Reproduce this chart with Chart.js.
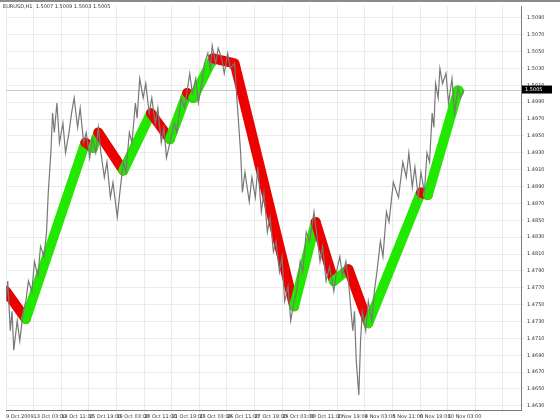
<!DOCTYPE html>
<html>
<head>
<meta charset="utf-8">
<script src="https://cdn.jsdelivr.net/npm/chart.js@4.4.0/dist/chart.umd.min.js"></script>
<style>
html, body { margin: 0; padding: 0; background: #fff; }
</style>
</head>
<body>
<canvas id="grafico" width="560" height="420"></canvas>
<script>
// Datos: EURUSD H1, hora = numero de barra desde la primera etiqueta
const titulo = 'EURUSD,H1  1.5007 1.5009 1.5003 1.5005';
const precioActual = 1.5005;

const etiquetasX = ['9 Oct 2009', '13 Oct 03:00', '14 Oct 11:00', '15 Oct 19:00', '19 Oct 03:00',
    '20 Oct 11:00', '21 Oct 19:00', '23 Oct 03:00', '26 Oct 11:00', '27 Oct 19:00', '29 Oct 03:00',
    '30 Oct 11:00', '2 Nov 19:00', '4 Nov 03:00', '5 Nov 11:00', '6 Nov 19:00', '10 Nov 03:00'];

const ticksY = [1.4630, 1.4650, 1.4670, 1.4690, 1.4710, 1.4730, 1.4750, 1.4770, 1.4790, 1.4810,
    1.4830, 1.4850, 1.4870, 1.4890, 1.4910, 1.4930, 1.4950, 1.4970, 1.4990, 1.5010, 1.5030,
    1.5050, 1.5070, 1.5090];

// precio (linea gris)
const horasPrecio = [0, 2, 5, 7, 9, 13, 16, 20, 23, 26, 30, 33, 37, 40, 44, 47, 49, 52, 54, 56,
    59, 62, 66, 69, 73, 76, 79, 83, 86, 90, 93, 97, 100, 104, 107, 110, 114, 117, 121, 124,
    129, 132, 136, 139, 143, 146, 150, 152, 155, 159, 162, 166, 169, 173, 176, 180, 183, 186, 190, 195,
    198, 203, 207, 213, 216, 220, 223, 227, 230, 234, 237, 239, 243, 246, 250, 253, 257, 260, 265, 268,
    272, 274, 277, 282, 285, 289, 292, 296, 299, 303, 306, 310, 313, 317, 320, 323, 327, 330, 334, 337,
    341, 344, 348, 352, 357, 360, 364, 367, 371, 375, 380, 383, 387, 390, 394, 397, 399, 402, 404, 406,
    409, 411, 413, 417, 420, 424, 427, 430, 434, 437, 441, 444, 449, 455, 460, 464, 467, 471, 474, 478,
    481, 485, 488, 491, 494, 496, 498, 501, 503, 506, 510, 513, 517, 520, 524, 527, 531];
const precios = [1.4754, 1.4778, 1.4719, 1.4742, 1.4696, 1.4731, 1.4707, 1.4742, 1.4754, 1.4778,
    1.4766, 1.4801, 1.4784, 1.4819, 1.4807, 1.4836, 1.4883, 1.4930, 1.4977, 1.4954,
    1.4989, 1.4942, 1.4965, 1.4930, 1.4954, 1.4977, 1.4995, 1.4960, 1.4983, 1.4942,
    1.4954, 1.4924, 1.4948, 1.4930, 1.4960, 1.4930, 1.4901, 1.4919, 1.4877, 1.4895,
    1.4854, 1.4883, 1.4919, 1.4907, 1.4954, 1.4942, 1.4989, 1.4971, 1.5018, 1.4995,
    1.5012, 1.4977, 1.4995, 1.4965, 1.4983, 1.4942, 1.4960, 1.4924, 1.4942, 1.4965,
    1.4954, 1.4995, 1.4983, 1.5024, 1.5001, 1.5018, 1.4989, 1.5012, 1.5036, 1.5048,
    1.5030, 1.5057, 1.5036, 1.5054, 1.5042, 1.5024, 1.5048, 1.5030, 1.5036, 1.4989,
    1.4930, 1.4883, 1.4907, 1.4872, 1.4901, 1.4877, 1.4913, 1.4860, 1.4883, 1.4836,
    1.4854, 1.4813, 1.4825, 1.4789, 1.4807, 1.4754, 1.4772, 1.4731, 1.4754, 1.4766,
    1.4801, 1.4789, 1.4836, 1.4825, 1.4860, 1.4836, 1.4801, 1.4819, 1.4778, 1.4795,
    1.4766, 1.4789, 1.4807, 1.4784, 1.4801, 1.4778, 1.4754, 1.4719, 1.4742, 1.4684,
    1.4643, 1.4707, 1.4742, 1.4719, 1.4754, 1.4731, 1.4766, 1.4789, 1.4825, 1.4807,
    1.4860, 1.4848, 1.4895, 1.4877, 1.4919, 1.4901, 1.4930, 1.4889, 1.4913, 1.4877,
    1.4907, 1.4883, 1.4930, 1.4919, 1.4977, 1.4960, 1.5012, 1.4995, 1.5030, 1.5012,
    1.5024, 1.4989, 1.5018, 1.4977, 1.5007, 1.4995, 1.5005];

// zigzag (verde sube, rojo baja)
const horasZigzag = [0, 23, 92, 101, 107, 136, 168, 190, 210, 217, 240, 265, 334, 359, 380, 397, 420, 481, 489, 524];
const preciosZigzag = [1.4766, 1.4733, 1.4942, 1.4936, 1.4954, 1.4909, 1.4977, 1.4946, 1.5001, 1.4995,
    1.5042, 1.5036, 1.4748, 1.4848, 1.4778, 1.4792, 1.4728, 1.4883, 1.4880, 1.5003];

const ROJO = 'rgb(236, 0, 0)';
const VERDE = 'rgb(34, 232, 0)';
const fuente = { family: 'DejaVu Sans', size: 5 };

// plugin para marco, titulo y etiqueta del precio actual
const marco = {
    id: 'marco',
    beforeDraw(chart) {
        const c = chart.ctx;
        c.save();
        c.fillStyle = '#fff';
        c.fillRect(0, 0, chart.width, chart.height);
        c.fillStyle = '#8a8a8a';
        c.fillRect(0, 0, chart.width, 2);
        c.restore();
    },
    beforeDatasetsDraw(chart) {
        const c = chart.ctx;
        const a = chart.chartArea;
        const y = Math.round(chart.scales.y.getPixelForValue(precioActual)) + 0.5;
        c.save();
        c.strokeStyle = '#c8c8c8';
        c.lineWidth = 1;
        c.beginPath();
        c.moveTo(a.left, y);
        c.lineTo(a.right, y);
        c.stroke();
        c.restore();
    },
    afterDraw(chart) {
        const c = chart.ctx;
        const a = chart.chartArea;
        const y = chart.scales.y.getPixelForValue(precioActual);
        c.save();
        c.fillStyle = '#000';
        c.fillRect(a.right + 1, y - 4, 30, 8);
        c.fillStyle = '#fff';
        c.font = '5px "DejaVu Sans"';
        c.textBaseline = 'middle';
        c.fillText(precioActual.toFixed(4), a.right + 4, y);
        c.fillStyle = '#333';
        c.fillText(titulo, 3, 7);
        c.restore();
    }
};

const ctx = document.getElementById('grafico').getContext('2d');
new Chart(ctx, {
    type: 'line',
    data: {
        datasets: [{
            label: 'EURUSD',
            data: horasPrecio.map((h, i) => ({ x: h, y: precios[i] })),
            borderColor: 'rgb(120, 120, 120)',
            borderWidth: 1.2,
            pointRadius: 0,
            tension: 0,
            clip: 0
        }, {
            label: 'ZigZag',
            data: horasZigzag.map((h, i) => ({ x: h, y: preciosZigzag[i] })),
            borderWidth: 10,
            borderCapStyle: 'round',
            borderJoinStyle: 'round',
            segment: {
                borderColor: c => c.p1.parsed.y < c.p0.parsed.y ? ROJO : VERDE
            },
            pointRadius: c => c.dataIndex === horasZigzag.length - 1 ? 6 : 0,
            pointBackgroundColor: VERDE,
            pointBorderWidth: 0,
            tension: 0,
            clip: 0
        }]
    },
    options: {
        responsive: false,
        animation: false,
        layout: { padding: { top: 2, left: 0, right: 0, bottom: 0 } },
        plugins: { legend: { display: false }, tooltip: { enabled: false } },
        scales: {
            x: {
                type: 'linear',
                min: 0,
                max: 597,
                afterBuildTicks: s => {
                    s.ticks = [];
                    for (let h = 0; h <= 576; h += 32) s.ticks.push({ value: h });
                },
                afterFit: s => { s.height = 10; },
                ticks: {
                    align: 'start',
                    autoSkip: false,
                    maxRotation: 0,
                    padding: 1,
                    color: '#333',
                    font: fuente,
                    callback: v => etiquetasX[v / 32] || ''
                },
                grid: { color: '#ebebeb', tickLength: 3 },
                border: { color: '#7a7a7a' }
            },
            y: {
                position: 'right',
                min: 1.46251,
                max: 1.5104,
                afterBuildTicks: s => { s.ticks = ticksY.map(v => ({ value: v })); },
                afterFit: s => { s.width = 39; },
                ticks: {
                    padding: 3,
                    color: '#333',
                    font: fuente,
                    callback: v => v.toFixed(4)
                },
                grid: { color: '#ebebeb', tickLength: 3 },
                border: { color: '#7a7a7a' }
            }
        }
    },
    plugins: [marco]
});
</script>
</body>
</html>
